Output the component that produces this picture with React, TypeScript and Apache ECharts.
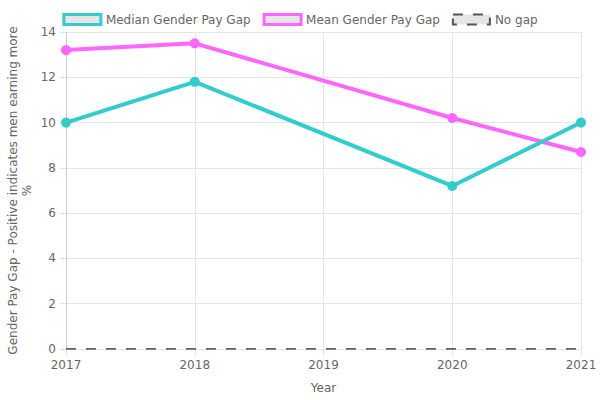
import React, { useEffect, useRef } from "react";
import * as echarts from "echarts";

const years = [2017, 2018, 2020, 2021];
const medianGap = [10.0, 11.8, 7.2, 10.0];
const meanGap = [13.2, 13.5, 10.2, 8.7];
const noGapRange = [2017, 2021];
const noGapValue = [0, 0];

const CYAN = "#33cccc";
const MAGENTA = "#ff66ff";
const TEXT = "#666666";
const FONT = "DejaVu Sans";

export default function App() {
  const ref = useRef<HTMLDivElement>(null);

  useEffect(() => {
    if (!ref.current) return;
    const chart = echarts.init(ref.current, undefined, { renderer: "svg" });
    chart.setOption({
      animation: false,
      textStyle: { fontFamily: FONT, color: TEXT },
      legend: {
        top: 8,
        left: "center",
        icon: "rect",
        itemWidth: 37,
        itemHeight: 10,
        itemGap: 12,
        textStyle: { fontFamily: FONT, fontSize: 12, color: TEXT },
        data: [
          {
            name: "Median Gender Pay Gap",
            itemStyle: { color: "#e6e6e6", borderColor: CYAN, borderWidth: 3 },
          },
          {
            name: "Mean Gender Pay Gap",
            itemStyle: { color: "#e6e6e6", borderColor: MAGENTA, borderWidth: 3 },
          },
          {
            name: "No gap",
            itemStyle: {
              color: "#e6e6e6",
              borderColor: "#555555",
              borderWidth: 2,
              borderType: [10, 10],
            },
          },
        ],
      },
      grid: { left: 66, right: 19, top: 32, bottom: 51, outerBoundsMode: "none" },
      xAxis: {
        type: "value",
        min: 2017,
        max: 2021,
        interval: 1,
        name: "Year",
        nameLocation: "middle",
        nameGap: 33,
        nameMoveOverlap: false,
        nameTextStyle: { fontFamily: FONT, fontSize: 12, color: TEXT },
        axisLine: { show: false },
        axisTick: { show: true, length: 6, lineStyle: { color: "#e0e0e0" } },
        axisLabel: {
          fontFamily: FONT,
          fontSize: 12,
          color: TEXT,
          margin: 10,
          formatter: (v: number) => String(v),
        },
        splitLine: { show: true, lineStyle: { color: "#e6e6e6" } },
      },
      yAxis: {
        type: "value",
        min: 0,
        max: 14,
        interval: 2,
        name: "Gender Pay Gap - Positive indicates men earning more\n%",
        nameLocation: "middle",
        nameGap: 32,
        nameMoveOverlap: false,
        nameTextStyle: { fontFamily: FONT, fontSize: 12, color: TEXT, lineHeight: 14 },
        axisLine: { show: true, lineStyle: { color: "#cccccc" } },
        axisTick: { show: true, length: 6, lineStyle: { color: "#e0e0e0" } },
        axisLabel: { fontFamily: FONT, fontSize: 12, color: TEXT, margin: 10 },
        splitLine: { show: true, lineStyle: { color: "#e6e6e6" } },
      },
      series: [
        {
          name: "Median Gender Pay Gap",
          type: "line",
          data: years.map((y, i) => [y, medianGap[i]]),
          lineStyle: { color: CYAN, width: 4 },
          itemStyle: { color: CYAN },
          symbol: "circle",
          symbolSize: 10,
          z: 3,
        },
        {
          name: "Mean Gender Pay Gap",
          type: "line",
          data: years.map((y, i) => [y, meanGap[i]]),
          lineStyle: { color: MAGENTA, width: 4 },
          itemStyle: { color: MAGENTA },
          symbol: "circle",
          symbolSize: 10,
          z: 2,
        },
        {
          name: "No gap",
          type: "line",
          data: noGapRange.map((y, i) => [y, noGapValue[i]]),
          lineStyle: { color: "#333333", width: 1.5, type: [10, 10] },
          itemStyle: { color: "#333333" },
          symbol: "none",
          z: 4,
        },
      ],
    });
    return () => chart.dispose();
  }, []);

  return (
    <div
      ref={ref}
      style={{ position: "absolute", left: 0, top: 0, width: 600, height: 400 }}
    />
  );
}
